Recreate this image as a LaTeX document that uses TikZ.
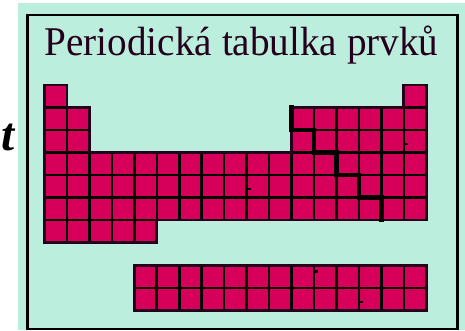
\documentclass[tikz,border=0pt]{standalone}
\usepackage{fontspec}
\setmainfont{Liberation Serif}
\definecolor{mint}{RGB}{188,238,222}
\definecolor{crim}{RGB}{214,0,90}
\definecolor{dk}{RGB}{36,0,28}
\tikzset{
  cellfill/.style={fill=crim},
  gridline/.style={draw=black, line width=2.6pt},
  rim/.style={draw=dk, line width=2.8pt, line join=miter},
  stair/.style={draw=black, line width=4.3pt, line join=miter, line cap=rect},
  tick/.style={fill=black}
}
\begin{document}
\begin{tikzpicture}[x=1pt,y=-1pt]
\useasboundingbox (0,0) rectangle (465,330);
\fill[white] (0,0) rectangle (465,330);
\fill[mint] (18,3) rectangle (465,330);
\draw[line width=2.4pt] (27.5,15) rectangle (457.5,329);
% title
\node[anchor=base west, inner sep=0, text=dk, font=\fontsize{40.8}{40.8}\selectfont] (title) at (44.5,55) {\scalebox{0.96}[1]{Periodická tabulka prvků}};
% cut-off letter at the left
\node[anchor=base east, inner sep=0, font=\fontsize{47}{47}\selectfont\bfseries\itshape] (tletter) at (15,150) {t};
% main table geometry
\def\cw{22.46}
\def\rh{22.5}
\def\xo{44.5}
\def\yo{85}
\pgfmathsetmacro{\xa}{\xo+\cw}
\pgfmathsetmacro{\xb}{\xo+2*\cw}
\pgfmathsetmacro{\xe}{\xo+5*\cw}
\pgfmathsetmacro{\xk}{\xo+11*\cw}
\pgfmathsetmacro{\xl}{\xo+12*\cw}
\pgfmathsetmacro{\xm}{\xo+13*\cw}
\pgfmathsetmacro{\xn}{\xo+14*\cw}
\pgfmathsetmacro{\xp}{\xo+15*\cw}
\pgfmathsetmacro{\xq}{\xo+16*\cw}
\pgfmathsetmacro{\xr}{\xo+17*\cw}
\pgfmathsetmacro{\ya}{\yo+\rh}
\pgfmathsetmacro{\yb}{\yo+2*\rh}
\pgfmathsetmacro{\yc}{\yo+3*\rh}
\pgfmathsetmacro{\yd}{\yo+4*\rh}
\pgfmathsetmacro{\ye}{\yo+5*\rh}
\pgfmathsetmacro{\yf}{\yo+6*\rh}
\pgfmathsetmacro{\yg}{\yo+7*\rh}
\def\outline{(\xo,\yo) -- (\xa,\yo) -- (\xa,\ya) -- (\xb,\ya) -- (\xb,\yc) -- (\xk,\yc) -- (\xk,\ya) -- (\xq,\ya) -- (\xq,\yo) -- (\xr,\yo) -- (\xr,\yf) -- (\xe,\yf) -- (\xe,\yg) -- (\xo,\yg) -- cycle}
\fill[cellfill] \outline;
\begin{scope}
  \clip \outline;
  \foreach \k in {1,...,16} {
    \draw[gridline] ({\xo+\k*\cw},\yo) -- ({\xo+\k*\cw},\yg);
  }
  \foreach \j in {1,...,6} {
    \draw[gridline] (\xo,{\yo+\j*\rh}) -- (\xr,{\yo+\j*\rh});
  }
\end{scope}
\draw[rim] \outline;
% metal / non-metal staircase
\draw[stair] (\xk,\ya) -- (\xk,\yb) -- (\xl,\yb) -- (\xl,\yc) -- (\xm,\yc) -- (\xm,\yd) -- (\xn,\yd) -- (\xn,\ye) -- (\xp,\ye) -- (\xp,\yf);
% lanthanides / actinides strip
\def\lx{134.3}
\def\ly{265.5}
\def\lh{22.4}
\fill[cellfill] (\lx,\ly) rectangle ({\lx+13*\cw},{\ly+2*\lh});
\foreach \k in {1,...,12} {
  \draw[gridline] ({\lx+\k*\cw},\ly) -- ({\lx+\k*\cw},{\ly+2*\lh});
}
\draw[gridline] (\lx,{\ly+\lh}) -- ({\lx+13*\cw},{\ly+\lh});
\draw[rim] (\lx,\ly) rectangle ({\lx+13*\cw},{\ly+2*\lh});
% small specks
\fill[tick] (380,112.7) rectangle (383.3,115);
\fill[tick] (405,142.7) rectangle (407.7,145.3);
\fill[tick] (246.7,187.7) rectangle (250.7,190);
\fill[tick] (315,270) rectangle (318.3,272.7);
\fill[tick] (359.3,301) rectangle (362.7,302.7);
\end{tikzpicture}
\end{document}
